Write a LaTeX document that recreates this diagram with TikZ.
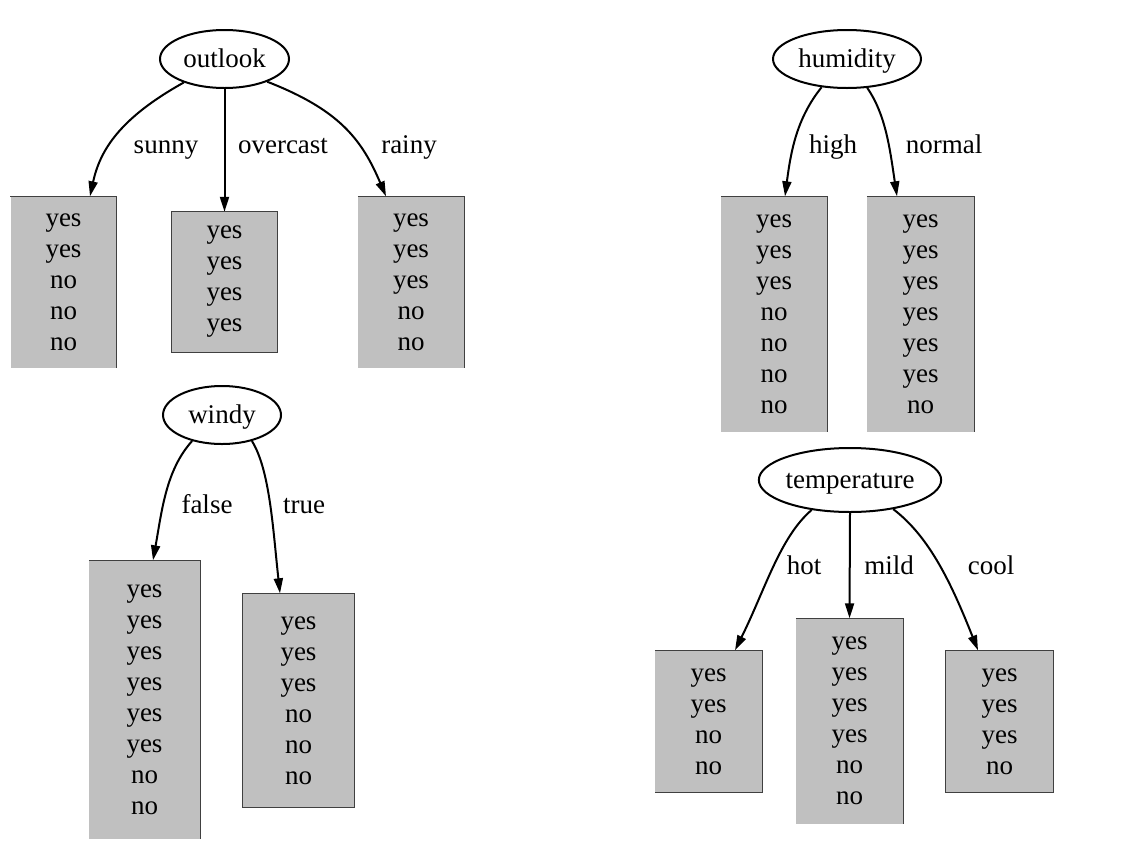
\documentclass[tikz,border=0pt]{standalone}
\usepackage{fontspec}
\setmainfont{Liberation Serif}
\usetikzlibrary{arrows.meta,shapes.geometric}
\definecolor{boxgray}{HTML}{C0C0C0}
\definecolor{edgegray}{HTML}{404040}
\begin{document}
\begin{tikzpicture}[x=1pt,y=-1pt,
  txt/.style={font=\fontsize{27}{31}\selectfont},
  attr/.style={txt,ellipse,draw,line width=2pt,inner sep=0pt,text height=22pt,text depth=6pt},
  leaf/.style={txt,rectangle,fill=boxgray,draw=none,inner sep=0pt,align=center,minimum width=106pt},
  lbl/.style={txt,inner sep=0pt,text height=18pt,text depth=6pt},
  edge/.style={line width=2pt,-{Stealth[length=15pt,width=9pt,inset=0pt]}},
  bline/.style={draw=edgegray,line width=1.2pt}
]
\useasboundingbox (0,0) rectangle (1122,860);

% outlook tree
\node[attr,minimum width=129pt,minimum height=58pt] (outlook) at (224.5,59) {outlook};
\node[leaf,minimum height=171pt] (sunny) at (63.5,282) {yes\\yes\\no\\no\\no};
\node[leaf,minimum height=140pt,minimum width=105pt] (overcast) at (224.5,282) {yes\\yes\\yes\\yes};
\node[leaf,minimum height=171pt] (rainy) at (411,282) {yes\\yes\\yes\\no\\no};
\node[lbl] (lsunny) at (166,147) {sunny};
\node[lbl] (lovercast) at (283,147) {overcast};
\node[lbl] (lrainy) at (409,147) {rainy};
\draw[edge] (outlook.-150) .. controls (120,118) and (100,150) .. ([xshift=26.5pt]sunny.north);
\draw[edge] (outlook.south) -- (overcast.north);
\draw[edge] (outlook.-28) .. controls (340,110) and (362,140) .. ([xshift=-25pt]rainy.north);

% humidity tree
\node[attr,minimum width=148pt,minimum height=58pt] (humidity) at (847,59) {humidity};
\node[leaf,minimum height=235pt] (high) at (774,314) {yes\\yes\\yes\\no\\no\\no\\no};
\node[leaf,minimum height=235pt,minimum width=107pt] (normal) at (920.5,314) {yes\\yes\\yes\\yes\\yes\\yes\\no};
\node[lbl] (lhigh) at (833,147) {high};
\node[lbl] (lnormal) at (944,147) {normal};
\draw[edge] (humidity.-132) .. controls (797,118) and (791,150) .. ([xshift=11pt]high.north);
\draw[edge] (humidity.-55) .. controls (886,115) and (890,150) .. ([xshift=-23.5pt]normal.north);

% windy tree
\node[attr,minimum width=118pt,minimum height=58pt] (windy) at (222,415) {windy};
\node[leaf,minimum height=278pt,minimum width=111pt] (false) at (144.5,699.5) {yes\\yes\\yes\\yes\\yes\\yes\\no\\no};
\node[leaf,minimum height=214pt,minimum width=111pt] (true) at (298.5,700.5) {yes\\yes\\yes\\no\\no\\no};
\node[lbl] (lfalse) at (207,507) {false};
\node[lbl] (ltrue) at (304,507) {true};
\draw[edge] (windy.-139) .. controls (166,470) and (162,510) .. ([xshift=8.5pt]false.north);
\draw[edge] (windy.-41) .. controls (270,470) and (273,530) .. ([xshift=-18.5pt]true.north);

% temperature tree
\node[attr,minimum width=180pt,minimum height=64pt] (temperature) at (850,480) {temperature};
\node[leaf,minimum height=142pt,minimum width=107pt] (hot) at (708.5,721.5) {yes\\yes\\no\\no};
\node[leaf,minimum height=205pt,minimum width=107pt] (mild) at (849.5,721) {yes\\yes\\yes\\yes\\no\\no};
\node[leaf,minimum height=142pt,minimum width=107pt] (cool) at (999.5,721.5) {yes\\yes\\yes\\no};
\node[lbl] (lhot) at (804,568) {hot};
\node[lbl] (lmild) at (889,568) {mild};
\node[lbl] (lcool) at (991,568) {cool};
\draw[edge] (temperature.-142) .. controls (780,537) and (765,590) .. ([xshift=26.5pt]hot.north);
\draw[edge] (temperature.south) -- (mild.north);
\draw[edge] (temperature.-34) .. controls (930,537) and (952,585) .. ([xshift=-21.5pt]cool.north);

% box borders
\draw[bline] (sunny.north west) -- (sunny.north east) -- (sunny.south east);
\draw[bline] (overcast.north west) rectangle (overcast.south east);
\draw[bline] (rainy.north west) -- (rainy.north east) -- (rainy.south east);
\draw[bline] (high.north west) -- (high.north east) -- (high.south east);
\draw[bline] (normal.north west) -- (normal.north east) -- (normal.south east);
\draw[bline] (false.north west) -- (false.north east) -- (false.south east);
\draw[bline] (true.north west) rectangle (true.south east);
\draw[bline] (hot.north west) -- (hot.north east) -- (hot.south east) -- (hot.south west);
\draw[bline] (mild.north west) -- (mild.north east) -- (mild.south east);
\draw[bline] (cool.north west) rectangle (cool.south east);
\end{tikzpicture}
\end{document}
